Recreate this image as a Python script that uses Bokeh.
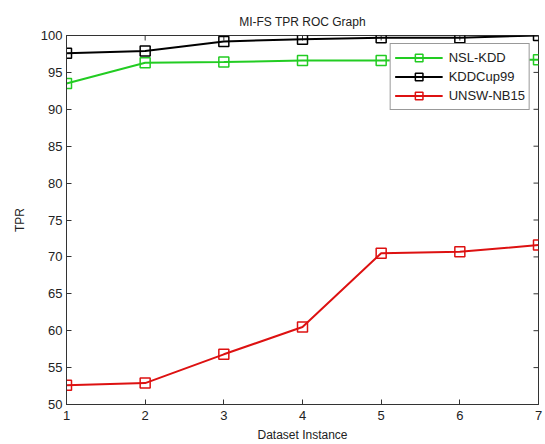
import math
from bokeh.plotting import figure
from bokeh.models import Range1d, Legend, LegendItem, FixedTicker
from bokeh.embed import file_html
from bokeh.resources import INLINE

instances = [1, 2, 3, 4, 5, 6, 7]
nsl_kdd = [93.5, 96.3, 96.4, 96.6, 96.6, 96.7, 96.7]
kddcup99 = [97.6, 97.9, 99.2, 99.5, 99.7, 99.7, 100.0]
unsw_nb15 = [52.6, 52.9, 56.8, 60.5, 70.5, 70.7, 71.6]
y_ticks = [50, 55, 60, 65, 70, 75, 80, 85, 90, 95, 100]

FONT = "Liberation Sans"
AX = "#333333"
TXT = "#222222"

p = figure(width=545, height=444, output_backend="svg", toolbar_location=None,
           x_range=Range1d(1, 7), y_range=Range1d(50, 100),
           min_border_left=66, min_border_right=7, min_border_top=35, min_border_bottom=39)
p.title.text = "MI-FS TPR ROC Graph"
p.title.align = "center"
p.title.vertical_align = "top"
p.title.text_font = FONT
p.title.text_font_size = "12px"
p.title.text_font_style = "normal"
p.title.text_color = TXT
p.title.standoff = 10
p.xgrid.visible = False
p.ygrid.visible = False
p.outline_line_color = AX
p.outline_line_width = 1
p.background_fill_color = "white"
p.border_fill_color = "white"

for ax in [p.xaxis[0], p.yaxis[0]]:
    ax.major_tick_in = 5
    ax.major_tick_out = 0
    ax.minor_tick_line_color = None
    ax.axis_line_color = AX
    ax.major_tick_line_color = AX
    ax.major_label_text_font = FONT
    ax.major_label_text_font_size = "13px"
    ax.major_label_text_color = TXT
    ax.axis_label_text_font = FONT
    ax.axis_label_text_font_size = "12px"
    ax.axis_label_text_font_style = "normal"
    ax.axis_label_text_color = TXT

p.xaxis.ticker = FixedTicker(ticks=instances)
p.yaxis.ticker = FixedTicker(ticks=y_ticks)
p.xaxis.axis_label = "Dataset Instance"
p.yaxis.axis_label = "TPR"
p.xaxis.axis_label_standoff = 5
p.yaxis.axis_label_standoff = 11
p.xaxis.major_label_standoff = 6
p.yaxis.major_label_standoff = 4

# MATLAB-style inward ticks on the top and right edges of the box
p.scatter([7] * len(y_ticks), y_ticks, marker="dash", size=10, line_color=AX, line_width=1)
p.scatter(instances, [100] * len(instances), marker="dash", size=10, angle=math.pi / 2,
          line_color=AX, line_width=1)

series = [("NSL-KDD", nsl_kdd, "#22cc22"), ("KDDCup99", kddcup99, "#000000"), ("UNSW-NB15", unsw_nb15, "#dd1111")]
items = []
for name, vals, col in series:
    l = p.line(instances, vals, line_color=col, line_width=2)
    s = p.scatter(instances, vals, marker="square", size=10, line_color=col, line_width=1.5, fill_color=None)
    items.append(LegendItem(label=name, renderers=[l, s]))

legend = Legend(items=items, location="top_right")
legend.label_text_font = FONT
legend.label_text_font_size = "13px"
legend.label_text_color = TXT
legend.border_line_color = AX
legend.border_line_width = 1
legend.background_fill_alpha = 1
legend.glyph_width = 48
legend.label_standoff = 6
legend.spacing = 0
legend.padding = 4
legend.margin = 8
legend.label_height = 19
legend.glyph_height = 19
p.add_layout(legend, "center")

open("out.html", "w").write(file_html(p, INLINE))
